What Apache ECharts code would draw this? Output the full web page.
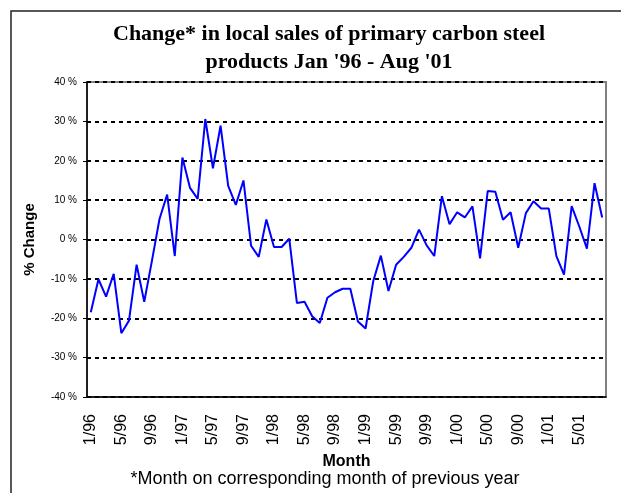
<!DOCTYPE html>
<html>
<head>
<meta charset="utf-8">
<script src="https://cdn.jsdelivr.net/npm/echarts@6/dist/echarts.min.js"></script>
<style>
  html, body { margin: 0; padding: 0; background: #fff; }
  #chart { width: 621px; height: 493px; }
</style>
</head>
<body>
<div id="chart"></div>
<script>
  // months Jan '96 - Aug '01
  var months = [
    '1/96', '2/96', '3/96', '4/96', '5/96', '6/96', '7/96', '8/96', '9/96', '10/96', '11/96', '12/96',
    '1/97', '2/97', '3/97', '4/97', '5/97', '6/97', '7/97', '8/97', '9/97', '10/97', '11/97', '12/97',
    '1/98', '2/98', '3/98', '4/98', '5/98', '6/98', '7/98', '8/98', '9/98', '10/98', '11/98', '12/98',
    '1/99', '2/99', '3/99', '4/99', '5/99', '6/99', '7/99', '8/99', '9/99', '10/99', '11/99', '12/99',
    '1/00', '2/00', '3/00', '4/00', '5/00', '6/00', '7/00', '8/00', '9/00', '10/00', '11/00', '12/00',
    '1/01', '2/01', '3/01', '4/01', '5/01', '6/01', '7/01', '8/01'
  ];

  // % change on same month of previous year
  var change = [
    -18.5, -10.1, -14.5, -8.7, -23.8, -20.6, -6.4, -15.8, -5.5, 5.2, 11.4, -4.2,
    20.8, 13.1, 10.3, 30.6, 18.1, 28.9, 13.6, 8.8, 15.0, -1.6, -4.4, 5.1,
    -1.9, -1.9, 0.2, -16.1, -15.8, -19.5, -21.2, -14.8, -13.4, -12.5, -12.5, -20.8,
    -22.6, -10.6, -4.1, -13.1, -6.4, -4.4, -2.1, 2.5, -1.5, -4.2, 11.0, 3.9,
    6.9, 5.6, 8.4, -4.8, 12.3, 12.1, 5.0, 6.9, -2.1, 6.7, 9.7, 7.9,
    7.9, -4.2, -8.9, 8.5, 3.3, -2.3, 14.3, 5.6
  ];

  var yTicks = { min: -40, max: 40, step: 10 };

  var myChart = echarts.init(document.getElementById('chart'), null, { renderer: 'canvas' });

  var option = {
    backgroundColor: '#fff',
    animation: false,
    graphic: [
      {
        type: 'rect',
        shape: { x: 11, y: 11, width: 700, height: 600 },
        style: { fill: 'none', stroke: '#222', lineWidth: 1.5 }
      },
      {
        type: 'text',
        x: 329,
        y: 20,
        style: {
          text: "Change* in local sales of primary carbon steel\nproducts Jan '96 - Aug '01",
          font: 'bold 22px "Liberation Serif", "Times New Roman", serif',
          fill: '#000',
          textAlign: 'center',
          lineHeight: 28
        }
      },
      {
        type: 'text',
        x: 325,
        y: 470,
        style: {
          text: '*Month on corresponding month of previous year',
          font: '18px "Liberation Sans", Arial, sans-serif',
          fill: '#000',
          textAlign: 'center'
        }
      }
    ],
    grid: {
      left: 87,
      right: 15,
      top: 82,
      bottom: 96,
      show: true,
      borderColor: '#808080',
      borderWidth: 2
    },
    xAxis: {
      type: 'category',
      data: months,
      boundaryGap: true,
      name: 'Month',
      nameLocation: 'middle',
      nameGap: 57,
      nameTextStyle: {
        fontFamily: '"Liberation Sans", Arial, sans-serif',
        fontWeight: 'bold',
        fontSize: 16,
        color: '#000'
      },
      axisLine: { onZero: false, lineStyle: { color: '#000', width: 1.5 } },
      axisTick: {
        inside: true,
        length: 4,
        interval: 0,
        lineStyle: { color: '#000' }
      },
      axisLabel: {
        interval: 3,
        rotate: 90,
        margin: 17,
        fontFamily: '"Liberation Sans", Arial, sans-serif',
        fontSize: 16,
        color: '#000'
      },
      splitLine: { show: false }
    },
    yAxis: {
      type: 'value',
      min: yTicks.min,
      max: yTicks.max,
      interval: yTicks.step,
      name: '% Change',
      nameLocation: 'middle',
      nameGap: 50,
      nameTextStyle: {
        fontFamily: '"Liberation Sans", Arial, sans-serif',
        fontWeight: 'bold',
        fontSize: 15,
        color: '#000'
      },
      axisLine: { show: true, lineStyle: { color: '#000', width: 1.5 } },
      axisTick: { show: true, length: 4, lineStyle: { color: '#000' } },
      axisLabel: {
        margin: 10,
        fontFamily: '"Liberation Sans", Arial, sans-serif',
        fontSize: 10,
        color: '#000',
        formatter: function (v) { return v + ' %'; }
      },
      splitLine: {
        show: true,
        lineStyle: { color: '#000', type: [4, 4], width: 2 }
      }
    },
    series: [{
      name: 'Change',
      type: 'line',
      data: change,
      symbol: 'none',
      lineStyle: { color: '#0000ff', width: 2 }
    }]
  };
  myChart.setOption(option);
</script>
</body>
</html>
